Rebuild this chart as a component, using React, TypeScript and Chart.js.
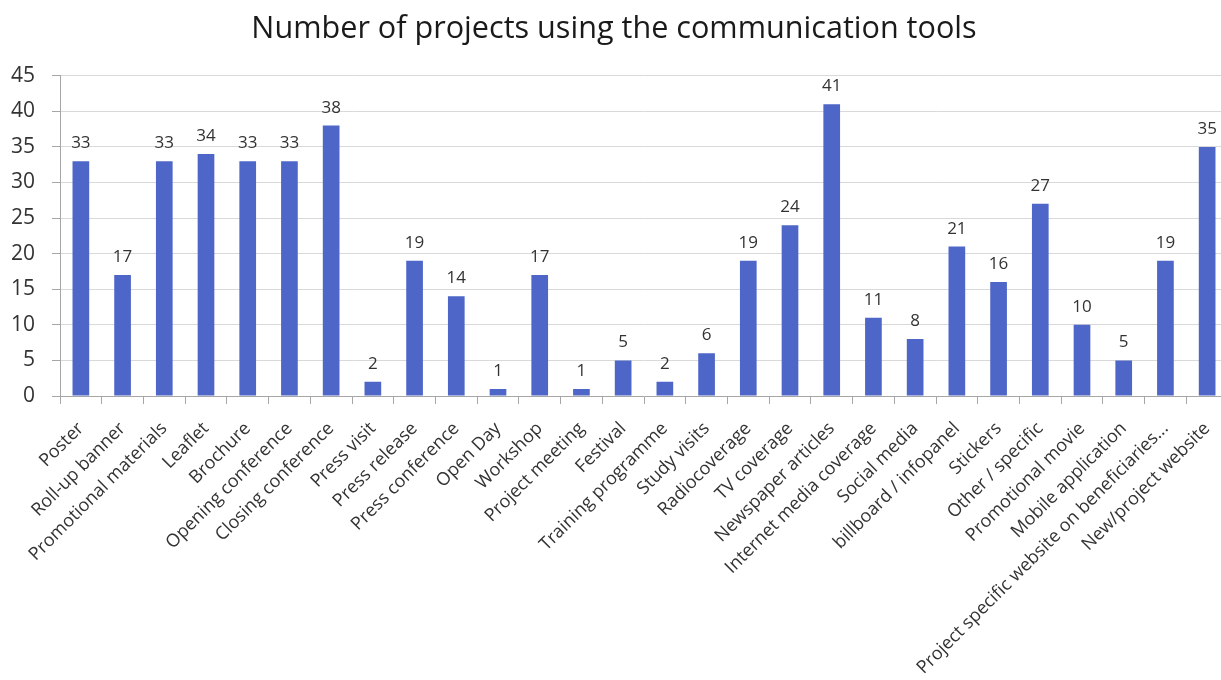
import React, { useEffect, useRef } from "react";
import { Chart, registerables } from "chart.js";

Chart.register(...registerables);

const titleText = "Number of projects using the communication tools";

const categories = [
  "Poster",
  "Roll-up banner",
  "Promotional materials",
  "Leaflet",
  "Brochure",
  "Opening conference",
  "Closing conference",
  "Press visit",
  "Press release",
  "Press conference",
  "Open Day",
  "Workshop",
  "Project meeting",
  "Festival",
  "Training programme",
  "Study visits",
  "Radiocoverage",
  "TV coverage",
  "Newspaper articles",
  "Internet media coverage",
  "Social media",
  "billboard / infopanel",
  "Stickers",
  "Other / specific",
  "Promotional movie",
  "Mobile application",
  "Project specific website on beneficiaries...",
  "New/project website",
];

const projectCounts = [
  33, 17, 33, 34, 33, 33, 38, 2, 19, 14, 1, 17, 1, 5, 2, 6, 19, 24, 41, 11, 8,
  21, 16, 27, 10, 5, 19, 35,
];

const yMin = 0;
const yMax = 45;
const yStep = 5;

const FONT = "'Open Sans', 'Noto Sans', sans-serif";

const dataLabelPlugin = {
  id: "dataLabels",
  afterDatasetsDraw(chart: any) {
    const ctx = chart.ctx;
    const meta = chart.getDatasetMeta(0);
    const data = chart.data.datasets[0].data;
    ctx.save();
    ctx.font = `17px ${FONT}`;
    ctx.fillStyle = "#333333";
    ctx.textAlign = "center";
    ctx.textBaseline = "alphabetic";
    meta.data.forEach((bar: any, i: number) => {
      ctx.fillText(String(data[i]), bar.x, bar.y - 13);
    });
    ctx.restore();
  },
};

export default function App() {
  const canvasRef = useRef<HTMLCanvasElement | null>(null);

  useEffect(() => {
    if (!canvasRef.current) return;
    const chart = new Chart(canvasRef.current, {
      type: "bar",
      data: {
        labels: categories,
        datasets: [
          {
            data: projectCounts,
            backgroundColor: "#4e66c8",
            borderWidth: 0,
            barPercentage: 0.8,
            categoryPercentage: 0.5,
          },
        ],
      },
      options: {
        responsive: false,
        animation: false,
        devicePixelRatio: 1,
        layout: { padding: { left: 0, right: 0, top: 0, bottom: 0 } },
        plugins: {
          legend: { display: false },
          tooltip: { enabled: false },
          title: {
            display: true,
            text: titleText,
            color: "#1a1a1a",
            font: { family: FONT, size: 30.6, weight: "normal" },
            padding: { top: 11, bottom: 28 },
          },
        },
        scales: {
          x: {
            offset: true,
            grid: {
              display: true,
              drawOnChartArea: false,
              drawTicks: true,
              tickLength: 8,
              tickColor: "#a6a6a6",
              offset: true,
            },
            border: { display: true, color: "#a6a6a6" },
            ticks: {
              autoSkip: false,
              minRotation: 45,
              maxRotation: 45,
              color: "#333333",
              padding: 14,
              font: { family: FONT, size: 18 },
            },
            afterFit: (scale: any) => {
              scale.height = 284;
              scale.paddingLeft = 0;
              scale.paddingRight = 0;
            },
          },
          y: {
            min: yMin,
            max: yMax,
            ticks: {
              stepSize: yStep,
              color: "#333333",
              padding: 17,
              font: { family: FONT, size: 21 },
            },
            grid: {
              color: "#d9d9d9",
              tickColor: "#a6a6a6",
              tickLength: 8,
            },
            border: { display: true, color: "#a6a6a6" },
            afterFit: (scale: any) => {
              scale.width = 60;
            },
          },
        },
      },
      plugins: [dataLabelPlugin],
    });
    return () => chart.destroy();
  }, []);

  return (
    <div
      style={{
        position: "fixed",
        left: 0,
        top: 0,
        width: 1221,
        height: 680,
        overflow: "hidden",
        background: "#ffffff",
      }}
    >
      <canvas ref={canvasRef} width={1228} height={680} />
    </div>
  );
}
